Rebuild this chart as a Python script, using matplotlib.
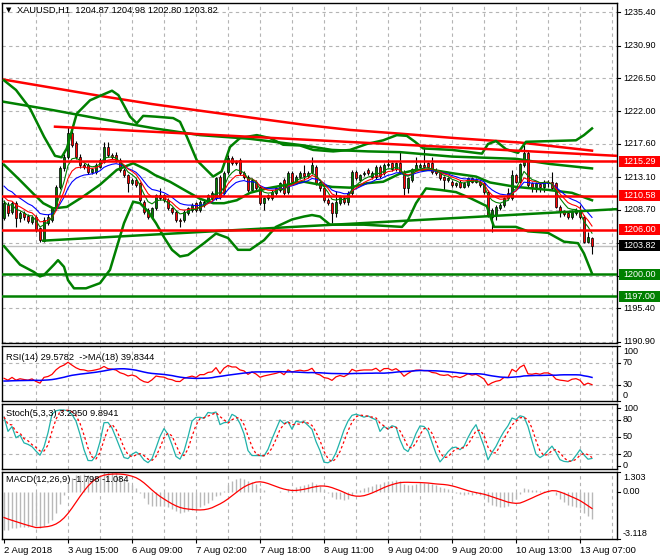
import numpy as np
import matplotlib
matplotlib.use("Agg")
import matplotlib.pyplot as plt
import matplotlib.transforms as mtransforms
from matplotlib.patches import Rectangle

# ---------------- data ----------------
time_labels = ["2 Aug 2018", "3 Aug 15:00", "6 Aug 09:00", "7 Aug 02:00", "7 Aug 18:00",
               "8 Aug 11:00", "9 Aug 04:00", "9 Aug 20:00", "10 Aug 13:00", "13 Aug 07:00"]
time_label_bars = [0, 16, 32, 48, 64, 80, 96, 112, 128, 144]

opens = [1207.55, 1209.36, 1208.46, 1209.58, 1207.55, 1208.23, 1207.90, 1207.10, 1207.78, 1206.20,
         1204.54, 1206.88, 1207.33, 1208.91, 1211.83, 1214.31, 1215.89, 1219.04, 1217.69, 1215.89,
         1214.76, 1214.76, 1213.86, 1213.86, 1214.54, 1215.21, 1217.24, 1216.11, 1216.11, 1215.44,
         1214.09, 1213.41, 1212.28, 1212.74, 1212.28, 1209.81, 1208.68, 1207.78, 1208.91, 1210.71,
         1210.71, 1210.03, 1208.91, 1208.46, 1207.33, 1207.33, 1208.23, 1208.68, 1209.58, 1208.68,
         1209.36, 1209.81, 1210.26, 1210.26, 1213.19, 1210.93, 1213.86, 1215.66, 1215.21, 1215.44,
         1213.64, 1213.19, 1211.38, 1212.51, 1211.83, 1209.58, 1210.26, 1210.26, 1210.93, 1211.38,
         1212.74, 1211.16, 1213.64, 1212.51, 1213.19, 1213.64, 1213.28, 1213.86, 1214.54, 1212.51,
         1211.61, 1210.03, 1209.58, 1208.23, 1209.58, 1210.35, 1209.81, 1210.93, 1213.86, 1212.74,
         1213.55, 1214.09, 1213.19, 1213.19, 1214.54, 1213.64, 1214.76, 1214.99, 1214.18, 1214.99,
         1213.86, 1211.61, 1212.74, 1214.09, 1214.54, 1214.76, 1214.99, 1214.99, 1214.09, 1213.64,
         1213.10, 1212.74, 1212.51, 1212.06, 1212.51, 1211.83, 1212.06, 1212.96, 1212.51, 1212.51,
         1212.28, 1211.16, 1207.78, 1208.01, 1208.91, 1209.36, 1210.93, 1210.26, 1213.41, 1212.51,
         1214.76, 1216.34, 1212.28, 1211.83, 1212.20, 1211.83, 1212.28, 1212.51, 1212.28, 1209.13,
         1208.46, 1208.23, 1207.78, 1208.23, 1208.68, 1207.78, 1204.40, 1204.87]
highs = [1210.00, 1209.80, 1209.90, 1209.90, 1208.50, 1208.50, 1208.10, 1208.00, 1208.00, 1206.40,
         1207.70, 1208.10, 1209.10, 1212.10, 1214.60, 1216.30, 1219.94, 1219.50, 1218.00, 1216.20,
         1215.00, 1215.00, 1214.40, 1215.00, 1215.70, 1217.92, 1217.90, 1216.40, 1216.50, 1215.70,
         1214.30, 1213.60, 1213.00, 1213.00, 1212.50, 1210.00, 1208.90, 1209.10, 1210.90, 1211.61,
         1210.90, 1210.30, 1209.10, 1208.70, 1207.55, 1208.70, 1209.10, 1209.60, 1209.80, 1210.00,
         1210.00, 1210.90, 1211.20, 1213.20, 1213.40, 1213.90, 1216.10, 1216.00, 1215.50, 1215.70,
         1213.90, 1213.40, 1213.00, 1212.80, 1212.10, 1210.50, 1210.90, 1211.40, 1211.90, 1212.50,
         1213.00, 1213.90, 1213.90, 1213.40, 1213.90, 1214.76, 1213.90, 1215.80, 1214.80, 1212.80,
         1211.90, 1210.30, 1209.80, 1211.20, 1210.70, 1210.60, 1211.20, 1214.10, 1214.10, 1213.60,
         1213.90, 1214.30, 1213.90, 1214.80, 1214.80, 1215.00, 1215.53, 1215.20, 1215.20, 1216.56,
         1214.10, 1213.20, 1214.40, 1215.80, 1215.00, 1217.24, 1215.20, 1215.80, 1214.30, 1213.90,
         1213.30, 1213.20, 1212.70, 1212.50, 1212.70, 1212.50, 1213.20, 1213.20, 1213.00, 1212.70,
         1212.50, 1211.40, 1208.90, 1209.40, 1209.60, 1210.50, 1211.61, 1214.09, 1213.60, 1215.10,
         1217.46, 1216.60, 1212.50, 1212.50, 1212.40, 1212.70, 1212.70, 1213.86, 1212.50, 1209.40,
         1208.70, 1208.50, 1208.70, 1208.90, 1209.40, 1208.00, 1205.75, 1204.98]
lows = [1207.30, 1207.90, 1208.20, 1206.43, 1207.10, 1207.30, 1206.90, 1206.80, 1205.70, 1204.40,
        1204.40, 1206.60, 1207.10, 1208.70, 1211.50, 1213.90, 1215.60, 1217.20, 1215.60, 1214.40,
        1214.20, 1213.50, 1213.60, 1213.60, 1214.30, 1215.00, 1215.90, 1215.60, 1215.20, 1213.80,
        1213.10, 1211.16, 1212.00, 1211.80, 1209.80, 1208.20, 1207.50, 1207.50, 1208.70, 1210.00,
        1209.80, 1208.70, 1208.20, 1207.10, 1206.34, 1207.10, 1208.00, 1208.40, 1208.40, 1208.40,
        1209.10, 1209.60, 1210.00, 1210.00, 1210.20, 1210.70, 1213.60, 1214.70, 1214.70, 1213.40,
        1212.90, 1211.10, 1211.10, 1211.40, 1209.36, 1208.68, 1210.00, 1210.00, 1210.70, 1211.10,
        1210.70, 1210.90, 1212.30, 1212.30, 1212.90, 1212.74, 1213.00, 1213.60, 1212.00, 1211.30,
        1209.80, 1209.30, 1206.90, 1207.80, 1209.30, 1209.50, 1209.30, 1210.70, 1212.70, 1212.50,
        1213.30, 1213.40, 1212.90, 1212.90, 1213.00, 1213.40, 1214.50, 1213.90, 1213.90, 1213.60,
        1210.71, 1210.93, 1212.50, 1213.90, 1214.30, 1214.30, 1214.30, 1213.60, 1213.40, 1212.70,
        1211.38, 1212.50, 1211.80, 1211.80, 1211.60, 1211.60, 1211.80, 1212.30, 1212.30, 1211.80,
        1210.90, 1207.80, 1205.75, 1207.33, 1208.70, 1209.10, 1210.00, 1210.00, 1212.30, 1212.30,
        1214.50, 1211.80, 1211.10, 1211.10, 1211.10, 1211.10, 1211.80, 1211.40, 1208.90, 1207.80,
        1207.90, 1207.50, 1207.50, 1208.00, 1207.50, 1204.20, 1204.20, 1202.80]
closes = [1209.58, 1208.23, 1209.58, 1207.55, 1208.23, 1207.69, 1207.24, 1207.78, 1205.98, 1204.63,
          1207.33, 1207.78, 1208.91, 1211.83, 1214.31, 1215.89, 1219.04, 1217.46, 1215.89, 1214.76,
          1214.54, 1213.86, 1214.18, 1214.76, 1215.44, 1217.24, 1216.11, 1215.89, 1215.44, 1214.09,
          1213.41, 1212.28, 1212.74, 1212.06, 1210.03, 1208.46, 1207.78, 1208.91, 1210.71, 1210.26,
          1210.03, 1208.91, 1208.46, 1207.33, 1207.24, 1208.46, 1208.91, 1209.36, 1208.68, 1209.81,
          1209.81, 1210.71, 1210.93, 1212.96, 1210.48, 1213.64, 1215.66, 1214.99, 1214.99, 1213.64,
          1213.19, 1211.38, 1212.74, 1211.61, 1209.58, 1210.26, 1210.71, 1211.16, 1211.61, 1212.28,
          1210.93, 1213.64, 1212.51, 1213.19, 1213.64, 1213.28, 1213.64, 1214.76, 1212.28, 1211.61,
          1210.03, 1209.58, 1208.23, 1209.81, 1210.48, 1209.81, 1210.93, 1213.86, 1212.96, 1213.41,
          1213.64, 1213.64, 1213.64, 1214.54, 1213.28, 1214.76, 1214.85, 1214.18, 1214.99, 1213.86,
          1211.61, 1212.96, 1214.18, 1214.76, 1214.76, 1214.54, 1214.54, 1213.86, 1213.64, 1212.96,
          1212.74, 1212.96, 1212.06, 1212.28, 1211.83, 1212.28, 1212.96, 1212.51, 1212.74, 1212.06,
          1211.16, 1208.01, 1208.68, 1209.13, 1209.36, 1210.26, 1210.26, 1213.41, 1212.51, 1214.90,
          1216.34, 1212.06, 1211.83, 1212.28, 1211.83, 1212.51, 1212.51, 1211.61, 1209.13, 1208.46,
          1208.14, 1207.69, 1208.46, 1208.68, 1207.78, 1204.40, 1205.08, 1203.82]

# bollinger bands (traced at bar positions)
bb_upper_bars = [0, 3, 6.5, 10, 12.75, 14.4, 15.7, 18.2, 21.5, 24, 27, 28.6, 31.5, 33.2, 34.8, 37.75,
                 42.3, 44, 45.7, 48.2, 52.3, 54.4, 56.5, 59, 63.2, 66.5, 69.8, 74, 77.3, 82.3, 86.5,
                 90.7, 94.8, 98.2, 100.7, 102.75, 104.8, 112, 119.5, 121, 123, 125.5, 128.5, 130.5,
                 137, 143, 145, 147]
bb_upper = [1226.2, 1224.9, 1222.4, 1218.6, 1216.0, 1215.8, 1217.0, 1221.7, 1223.5, 1224.1, 1224.8,
            1224.2, 1221.3, 1220.4, 1221.4, 1221.3, 1221.1, 1220.6, 1218.6, 1215.4, 1213.2, 1213.9,
            1217.2, 1218.4, 1218.8, 1218.4, 1217.5, 1217.4, 1216.8, 1216.6, 1216.8, 1217.6, 1218.1,
            1218.8, 1218.7, 1217.9, 1217.0, 1216.8, 1216.3, 1217.6, 1218.0, 1216.9, 1216.4, 1217.9,
            1218.0, 1218.1, 1218.8, 1219.7]
bb_mid_bars = [0, 4, 7.3, 9.8, 12.3, 15.7, 19.8, 24, 28.2, 32.3, 35.7, 37.75, 41.5, 45.7, 49, 52.3,
               55, 58.2, 61.5, 65.7, 69.8, 75, 82, 86.5, 90.7, 94.8, 99, 103, 107, 112.75, 118,
               121.5, 128, 136, 142, 147]
bb_mid = [1214.8, 1212.7, 1210.9, 1209.6, 1208.9, 1209.1, 1210.5, 1212.1, 1214.1, 1215.0, 1214.1,
          1213.4, 1212.5, 1211.2, 1210.2, 1209.6, 1209.6, 1210.0, 1211.0, 1211.6, 1212.0, 1212.5,
          1211.8, 1211.7, 1212.3, 1212.5, 1213.6, 1214.1, 1214.1, 1213.6, 1213.2, 1212.4, 1211.8,
          1211.4, 1211.0, 1210.0]
bb_lower_bars = [0, 4, 7.5, 9, 10, 12.5, 13.5, 15, 16, 17.5, 20.5, 24, 26.5, 28, 30, 32.3, 34, 36,
                 38, 40, 42, 44, 46, 50, 53, 56, 58.5, 61.5, 65, 68, 72, 75, 77, 79, 81.5, 90, 99.5,
                 101, 103, 105.5, 109, 113, 116.5, 120.7, 122.5, 128, 131, 136, 140, 143.5, 145, 147]
bb_lower = [1203.8, 1201.3, 1200.3, 1199.7, 1199.9, 1201.3, 1201.9, 1201.0, 1199.2, 1198.1, 1198.1,
            1198.8, 1200.6, 1203.3, 1206.9, 1209.8, 1209.6, 1208.5, 1206.9, 1205.0, 1203.3, 1202.4,
            1202.6, 1204.2, 1205.5, 1204.9, 1203.3, 1203.3, 1204.6, 1206.4, 1207.4, 1207.8, 1208.0,
            1207.8, 1206.7, 1206.7, 1206.4, 1207.3, 1209.6, 1211.6, 1211.4, 1211.1, 1210.3, 1209.2,
            1206.4, 1206.4, 1205.8, 1205.6, 1204.4, 1204.2, 1202.8, 1200.1]

# slow moving averages (red / green thick)
slow_red_bars = [0, 12, 24, 37, 49, 64, 75, 86.5, 99, 112.75, 129, 147]
slow_red = [1226.3, 1225.2, 1224.1, 1223.0, 1222.1, 1221.0, 1220.2, 1219.5, 1219.0, 1218.4, 1217.8, 1216.7]
slow_green_bars = [0, 12, 24, 37.75, 49, 61.5, 75, 82, 91, 99, 112, 128, 136.5, 147]
slow_green = [1223.3, 1222.2, 1221.0, 1219.7, 1218.8, 1218.3, 1217.4, 1216.8, 1216.6, 1216.5, 1215.9,
              1215.6, 1214.9, 1214.3]

# drawn objects
red_trend = ([12.75, 153.25], [1219.94, 1216.0])
green_trend = ([9.8, 153.25], [1204.54, 1208.8])
red_levels = [1215.29, 1210.58, 1206.00]
green_levels = [1200.00, 1197.00]
bid = 1203.82
price_grid = [1235.40, 1230.90, 1226.50, 1222.00, 1217.60, 1213.10, 1208.70, 1204.20, 1199.80,
              1195.40, 1190.90]

# indicator seeds read at the left edge
ma_seeds = {"blue": 1212.3, "red": 1210.7, "green": 1210.0}
rsi_seed = (0.35, 0.72)
rsi_ma_seed = 36.0
macd_seeds = (1210.8, 1213.4, -1.6)

W, H = 660, 560
FONT = "Liberation Sans"
GRID = "#b4b4b4"
GREEN = "#008000"
RED = "#ff0000"


def ema(values, period, seed):
    k = 2.0 / (period + 1)
    out, prev = [], seed
    for v in values:
        prev = prev + k * (v - prev)
        out.append(prev)
    return np.array(out)


def sma_with_seed(values, period, seed):
    hist = np.concatenate([np.full(period - 1, seed), values])
    return np.convolve(hist, np.ones(period) / period, mode="valid")


def rsi(values, period, first_prev, gain, loss):
    out, prev = [], first_prev
    for v in values:
        d = v - prev
        gain = (gain * (period - 1) + max(d, 0)) / period
        loss = (loss * (period - 1) + max(-d, 0)) / period
        out.append(100 - 100 / (1 + gain / loss))
        prev = v
    return np.array(out)


def stochastic(hi, lo, cl, k_period, slowing, d_period):
    n = len(cl)
    num, den = np.zeros(n), np.zeros(n)
    for i in range(n):
        s = slice(max(0, i - k_period + 1), i + 1)
        low = min(lo[s])
        num[i] = cl[i] - low
        den[i] = max(hi[s]) - low
    k = np.array([100 * num[max(0, i - slowing + 1):i + 1].sum() / den[max(0, i - slowing + 1):i + 1].sum()
                  for i in range(n)])
    d = np.array([k[max(0, i - d_period + 1):i + 1].mean() for i in range(n)])
    return k, d


def add_panel(fig, top, bottom):
    ax = fig.add_axes([2 / W, 1 - bottom / H, 615 / W, (bottom - top) / H])
    ax.set_xlim(-0.5, 153.25)
    for s in ax.spines.values():
        s.set_color("black")
        s.set_linewidth(1.0)
    ax.set_xticks([])
    ax.set_yticks([])
    for i in range(8, 154, 8):
        ax.axvline(i, color=GRID, lw=0.8, dashes=(3, 3), zorder=0)
    return ax


def side_label(ax, y, text, va="center", dy=0.0):
    tr = mtransforms.blended_transform_factory(ax.transAxes, ax.transData)
    ax.annotate(text, xy=(1, y), xycoords=tr, xytext=(4.3, dy), textcoords="offset points",
                va=va, ha="left", fontsize=6.5, family=FONT, annotation_clip=False, zorder=6)
    ax.plot([1, 1 + 3 / 615], [y, y], transform=tr, color="black", lw=0.8, clip_on=False)


def box_label(ax, y, text, color):
    tr = mtransforms.blended_transform_factory(ax.transAxes, ax.transData)
    lo, hi = ax.get_ylim()
    unit = (hi - lo) / (ax.get_position().height * H)  # price per pixel
    ax.add_patch(Rectangle((1 + 2 / 615, y - 5.5 * unit), 41 / 615, 11 * unit, transform=tr,
                           facecolor=color, edgecolor="none", clip_on=False, zorder=7))
    ax.annotate(text, xy=(1, y), xycoords=tr, xytext=(4.3, 0), textcoords="offset points",
                va="center", ha="left", fontsize=6.5, family=FONT, color="white",
                annotation_clip=False, zorder=8)


def main():
    o, h, l, c = (np.array(a) for a in (opens, highs, lows, closes))
    bars = np.arange(len(c))

    fig = plt.figure(figsize=(W / 100, H / 100), dpi=100)
    fig.patch.set_facecolor("white")

    # ---------- price window ----------
    ax = add_panel(fig, 2.5, 343)
    ax.set_ylim(1190.71, 1236.72)
    for p in price_grid:
        ax.axhline(p, color=GRID, lw=0.8, dashes=(3, 3), zorder=0)
        side_label(ax, p, f"{p:.2f}")

    up = c >= o
    ax.vlines(bars, l, h, color="black", lw=0.8, zorder=2)
    ax.bar(bars, np.maximum(np.abs(c - o), 0.07), width=0.72, bottom=np.minimum(o, c),
           color=np.where(up, GREEN, RED), edgecolor="black", linewidth=0.5, zorder=2.1)

    ax.axhline(bid, color="#c0c0c0", lw=1.0, zorder=1.5)

    ax.plot(slow_red_bars, slow_red, color=RED, lw=1.8, zorder=3)
    ax.plot(slow_green_bars, slow_green, color=GREEN, lw=1.8, zorder=3)
    for xs, ys in ((bb_upper_bars, bb_upper), (bb_mid_bars, bb_mid), (bb_lower_bars, bb_lower)):
        ax.plot(xs, ys, color=GREEN, lw=1.8, zorder=3)

    ax.plot(bars, ema(c, 13, ma_seeds["blue"]), color="#0000ff", lw=0.8, zorder=3.5)
    ax.plot(bars, ema(c, 8, ma_seeds["red"]), color=RED, lw=0.8, zorder=3.5)
    ax.plot(bars, ema(c, 5, ma_seeds["green"]), color=GREEN, lw=0.8, zorder=3.5)

    ax.plot(*red_trend, color=RED, lw=1.8, zorder=4)
    ax.plot(*green_trend, color=GREEN, lw=1.8, zorder=4)
    for lv in red_levels:
        ax.axhline(lv, color=RED, lw=1.8, zorder=4)
        box_label(ax, lv, f"{lv:.2f}", RED)
    for lv in green_levels:
        ax.axhline(lv, color=GREEN, lw=1.8, zorder=4)
        box_label(ax, lv, f"{lv:.2f}", GREEN)
    box_label(ax, bid, f"{bid:.2f}", "black")

    fig.text(6 / W, 1 - 10.5 / H, "\u25bc", fontsize=5, family="DejaVu Sans", va="center")
    fig.text(17 / W, 1 - 10.5 / H, "XAUUSD,H1  1204.87 1204.98 1202.80 1203.82",
             fontsize=6.7, family=FONT, va="center")

    # ---------- RSI ----------
    ax_rsi = add_panel(fig, 346, 401)
    ax_rsi.set_ylim(0, 100)
    r = rsi(c, 14, o[0], *rsi_seed)
    for lv in (70, 30):
        ax_rsi.axhline(lv, color=GRID, lw=0.8, dashes=(3, 3), zorder=0)
    ax_rsi.plot(bars, r, color=RED, lw=0.9, zorder=3)
    ax_rsi.plot(bars, sma_with_seed(r, 18, rsi_ma_seed), color="#0000ff", lw=1.1, zorder=3)
    side_label(ax_rsi, 100, "100", va="top", dy=-1)
    side_label(ax_rsi, 70, "70")
    side_label(ax_rsi, 30, "30")
    side_label(ax_rsi, 0, "0", va="bottom", dy=1)
    fig.text(6 / W, 1 - 357 / H, "RSI(14) 29.5782  ->MA(18) 39.8344", fontsize=6.7,
             family=FONT, va="center")

    # ---------- Stochastic ----------
    ax_st = add_panel(fig, 404, 469)
    ax_st.set_ylim(-6, 107)
    k, d = stochastic(h, l, c, 5, 3, 3)
    for lv in (80, 50, 20):
        ax_st.axhline(lv, color=GRID, lw=0.8, dashes=(3, 3), zorder=0)
    ax_st.plot(bars, k, color="#20b2aa", lw=0.9, zorder=3)
    ax_st.plot(bars, d, color=RED, lw=0.9, dashes=(2, 2), zorder=3)
    for lv in (100, 80, 50, 20, 0):
        side_label(ax_st, lv, str(lv))
    fig.text(6 / W, 1 - 413 / H, "Stoch(5,3,3) 3.2950 9.8941", fontsize=6.7, family=FONT, va="center")

    # ---------- MACD ----------
    ax_m = add_panel(fig, 472, 539)
    ax_m.set_ylim(-3.118, 1.303)
    macd = ema(c, 12, macd_seeds[0]) - ema(c, 26, macd_seeds[1])
    ax_m.vlines(bars, 0, macd, color="#b8b8b8", lw=1.0, zorder=2)
    ax_m.plot(bars, sma_with_seed(macd, 9, macd_seeds[2]), color=RED, lw=0.9, zorder=3)
    side_label(ax_m, 1.303, "1.303", va="top", dy=-1)
    side_label(ax_m, 0.0, "0.00")
    side_label(ax_m, -3.118, "-3.118", va="bottom", dy=1)
    fig.text(6 / W, 1 - 480 / H, "MACD(12,26,9) -1.798 -1.084", fontsize=6.7, family=FONT, va="center")

    ax_m.set_xticks(time_label_bars)
    ax_m.set_xticklabels(time_labels, fontsize=6.8, family=FONT, ha="left")
    ax_m.tick_params(axis="x", direction="out", length=3, width=0.8, pad=2)

    fig.savefig("out.png", dpi=100)


if __name__ == "__main__":
    main()
